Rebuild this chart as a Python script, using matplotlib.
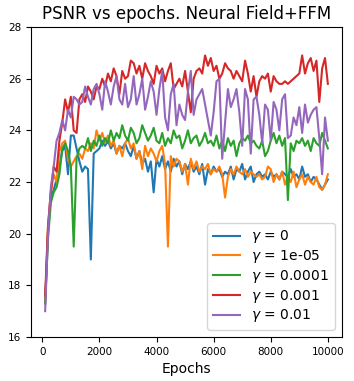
import numpy as np
import matplotlib.pyplot as plt

epochs = np.arange(100, 10001, 100)

psnr_g0 = [17.3, 20.1, 21.4, 21.7, 22.1, 22.6, 23.2, 23.4, 22.3, 23.8,
           23.8, 23.3, 22.8, 22.4, 22.6, 22.5, 19.0, 23.1, 23.2, 23.3,
           23.6, 23.4, 23.6, 23.3, 23.5, 23.1, 23.4, 23.3, 23.5, 23.2,
           23.0, 23.4, 22.9, 23.2, 22.7, 22.9, 22.4, 22.8, 21.6, 22.9,
           22.6, 23.0, 22.5, 22.8, 22.4, 22.9, 22.6, 22.8, 22.3, 22.7,
           22.5, 22.8, 22.4, 22.6, 22.3, 22.7, 21.9, 22.5, 22.3, 22.6,
           22.4, 22.5, 22.2, 22.4, 22.3, 22.6, 22.1, 22.5, 22.4, 22.7,
           22.1, 22.4, 22.6, 22.0, 22.3, 22.4, 22.2, 22.3, 22.1, 22.4,
           22.2, 22.3, 22.1, 22.4, 22.3, 22.2, 22.5, 22.2, 22.3, 22.1,
           22.6, 22.2, 22.3, 22.0, 22.2, 22.1, 21.9, 21.7, 21.9, 22.1]

psnr_g1e5 = [17.3, 20.3, 21.6, 22.3, 22.0, 23.2, 23.5, 23.6, 22.9, 22.6,
             22.8, 23.0, 23.1, 22.9, 23.3, 23.2, 23.5, 23.3, 24.0, 23.6,
             23.9, 23.5, 23.8, 23.4, 23.6, 23.1, 23.4, 23.0, 23.5, 23.7,
             23.3, 23.5, 22.9, 23.2, 22.5, 23.4, 23.0, 23.3, 23.1, 22.8,
             23.2, 23.4, 22.7, 19.5, 23.0, 22.6, 22.9, 22.8, 22.4, 22.7,
             21.9, 22.9, 22.5, 22.8, 22.4, 22.6, 22.5, 22.7, 22.3, 22.5,
             22.4, 22.6, 22.3, 21.4, 22.2, 22.5, 22.3, 22.6, 22.4, 22.3,
             22.5, 22.2, 22.4, 22.3, 22.2, 22.3, 22.1, 22.2, 22.6, 22.5,
             22.0, 22.3, 22.1, 22.4, 21.9, 22.2, 22.0, 22.4, 21.8, 22.1,
             22.3, 21.9, 22.2, 22.0, 21.9, 22.2, 21.8, 21.7, 21.9, 22.3]

psnr_g1e4 = [17.3, 19.8, 21.2, 21.6, 21.8, 22.3, 23.3, 23.5, 23.2, 22.6,
             19.5, 22.9, 23.3, 23.4, 23.3, 23.7, 23.2, 23.6, 23.4, 23.8,
             23.4, 23.7, 23.5, 24.0, 23.6, 23.9, 23.7, 24.2, 23.8, 23.6,
             24.1, 23.9, 23.5, 23.7, 24.2, 23.9, 23.6, 23.8, 24.1, 23.6,
             23.5, 23.9, 23.4, 23.7, 23.5, 24.0, 23.7, 23.8, 23.3, 23.6,
             24.0, 23.5, 23.7, 23.8, 23.4, 23.6, 23.9, 23.5, 23.6, 23.4,
             23.8, 23.3, 23.6, 23.2, 23.7, 23.4, 23.6, 23.0, 23.5, 23.7,
             23.6, 23.8, 23.5, 23.6, 23.4, 23.3, 23.6, 23.0, 23.2, 23.6,
             23.9, 23.5, 23.8, 23.4, 23.7, 21.3, 23.5, 23.2, 23.6, 23.5,
             23.7, 23.4, 23.6, 23.2, 23.7, 23.5, 23.4, 23.9, 23.6, 23.3]

psnr_g1e3 = [17.6, 20.3, 21.6, 22.6, 22.4, 23.6, 24.3, 25.2, 24.7, 25.3,
             24.0, 23.9, 25.2, 25.4, 25.1, 25.7, 25.5, 25.2, 25.7, 25.6,
             26.0, 25.7, 26.2, 25.9, 26.4, 26.1, 25.4, 26.3, 26.0, 26.1,
             26.7, 26.6, 26.2, 26.5, 26.0, 26.6, 26.3, 26.1, 25.8, 26.5,
             26.2, 26.4, 25.9, 26.3, 26.6, 25.6, 25.8, 26.0, 25.7, 26.3,
             25.5, 24.7, 26.0, 26.3, 26.4, 26.2, 26.9, 26.5, 26.8, 26.3,
             26.5, 26.0, 26.2, 26.6, 26.4, 26.3, 26.0, 26.3, 26.1, 25.9,
             26.7, 26.2, 25.5, 26.1, 25.3, 25.9, 26.1, 26.0, 26.2, 25.5,
             26.1, 25.9, 25.8, 25.8, 25.9, 25.8, 25.9, 26.0, 26.1, 26.2,
             26.9, 26.2, 26.6, 26.8, 26.3, 26.7, 25.1, 26.4, 26.8, 25.8]

psnr_g1e2 = [17.0, 20.0, 21.8, 22.6, 23.6, 23.9, 24.4, 24.0, 24.8, 24.5,
             25.3, 25.2, 25.0, 25.1, 25.7, 25.3, 25.0, 25.6, 25.8, 25.4,
             24.8, 25.9, 25.5, 25.0, 25.7, 26.1, 25.2, 25.0, 25.8, 24.9,
             25.2, 26.1, 25.0, 25.4, 26.0, 24.8, 25.3, 25.9, 25.5, 24.6,
             25.6, 26.3, 24.5, 24.0, 25.4, 25.8, 24.2, 25.0, 24.6, 24.4,
             25.5, 26.3, 24.6, 25.2, 25.4, 25.6, 25.0, 24.4, 23.8, 24.7,
             25.9, 26.0, 22.9, 24.3, 25.6, 24.9, 25.2, 25.6, 24.7, 23.4,
             25.6, 25.2, 23.1, 25.2, 25.3, 24.6, 23.5, 25.0, 24.8, 23.6,
             25.1, 24.8, 24.0, 25.2, 25.4, 23.7, 23.8, 24.5, 24.2, 24.9,
             23.9, 25.0, 24.3, 24.6, 24.8, 24.9, 23.7, 22.3, 24.5, 23.6]

series = [psnr_g0, psnr_g1e5, psnr_g1e4, psnr_g1e3, psnr_g1e2]
gammas = ['0', '1e-05', '0.0001', '0.001', '0.01']

fig = plt.figure(figsize=(3.54, 3.81), dpi=100)
ax = fig.add_axes([0.0876, 0.1155, 0.8785, 0.8135])
for vals, g in zip(series, gammas):
    ax.plot(epochs, vals, label=r'$\gamma$ = ' + g)
ax.set_ylim(16, 28)
ax.tick_params(labelsize=7.5)
ax.set_xlabel("Epochs")
ax.set_title("PSNR vs epochs. Neural Field+FFM")
ax.legend(loc='lower right', labelspacing=0.2)
fig.savefig("out.png")
